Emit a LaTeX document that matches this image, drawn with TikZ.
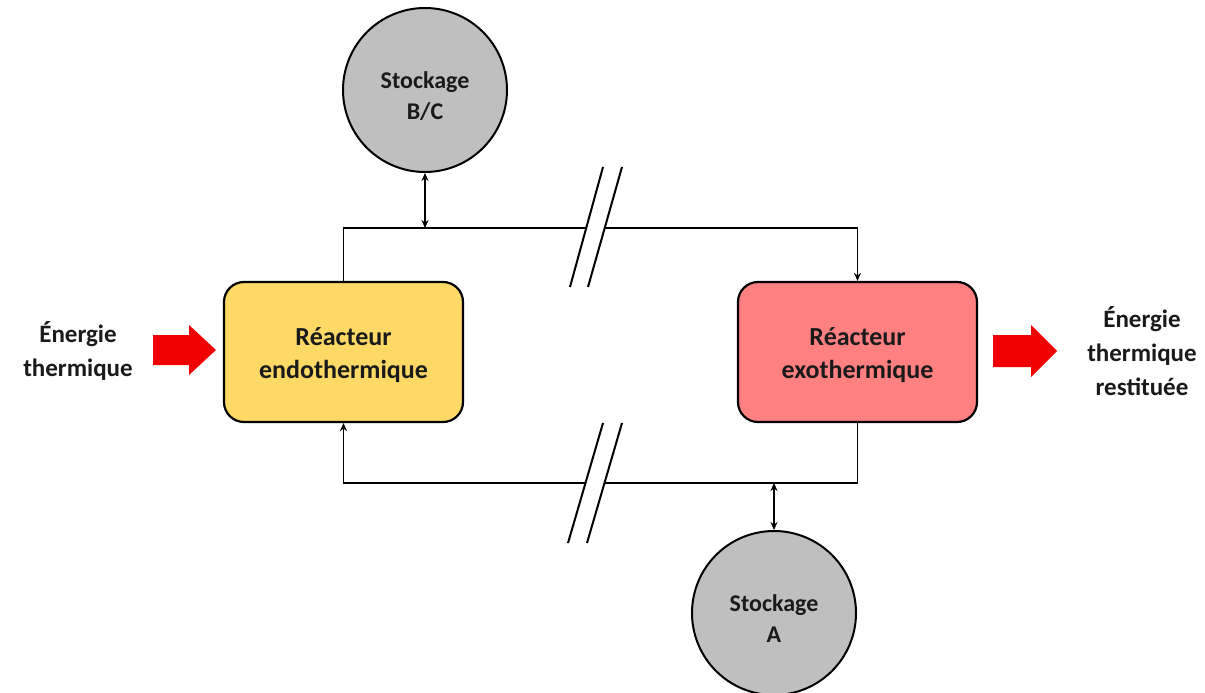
\documentclass[tikz,border=0pt]{standalone}
\usepackage{fontspec}
\setmainfont{Carlito}
\usetikzlibrary{arrows.meta}
\definecolor{txt}{HTML}{1A1A1A}
\definecolor{endofill}{HTML}{FFD966}
\definecolor{exofill}{HTML}{FF8080}
\definecolor{storegray}{HTML}{BFBFBF}
\definecolor{heatred}{HTML}{F00000}
\begin{document}
\begin{tikzpicture}[x=1pt,y=-1pt,
  box/.style={draw=black, line width=2.2pt, rounded corners=20pt, minimum width=239pt, minimum height=140pt},
  boxtext/.style={align=center, font=\fontsize{26}{33}\selectfont\bfseries, text=txt, yshift=-3pt},
  store/.style={circle, draw=black, line width=2pt, fill=storegray, minimum size=164pt, inner sep=0pt},
  storetext/.style={align=center, font=\fontsize{24}{31}\selectfont\bfseries, text=txt, yshift=-6pt},
  lbl/.style={align=center, font=\fontsize{25}{34}\selectfont\bfseries, text=txt},
  flow/.style={line width=1.4pt, draw=black},
  brk/.style={line width=2pt, draw=black},
  tipend/.style={-{Stealth[length=8pt,width=7pt]}},
  dbl/.style={{Stealth[length=8pt,width=7pt]}-{Stealth[length=8pt,width=7pt]}},
  heat/.style={fill=heatred}
]
\useasboundingbox (0,0) rectangle (1205,693);

% nodes
\node[box, fill=endofill, label={[boxtext]center:Réacteur\\endothermique}] (endo) at (343.5,352) {};
\node[box, fill=exofill, label={[boxtext]center:Réacteur\\exothermique}] (exo) at (857.5,352) {};
\node[store, label={[storetext]center:Stockage\\B/C}] (bc) at (425,90) {};
\node[store, label={[storetext]center:Stockage\\A}] (a) at (774,613) {};
\node[lbl] (lin) at (78,351) {Énergie\\thermique};
\node[lbl] (lout) at (1142,351) {Énergie\\thermique\\restituée};

% coordinates
\coordinate (tl) at (343.5,228);
\coordinate (tr) at (857.5,228);
\coordinate (tb1) at (586,228);
\coordinate (tb2) at (605,228);
\coordinate (bl) at (343.5,483);
\coordinate (br) at (857.5,483);
\coordinate (bb1) at (586,483);
\coordinate (bb2) at (605,483);

% top circuit
\draw[flow] (endo.north) -- (tl) -- (tb1);
\draw[flow,tipend] (tb2) -- (tr) -- (exo.north);
\draw[flow,dbl] (bc.south) -- (bc.south |- tl);

% bottom circuit
\draw[flow] (exo.south) -- (br) -- (bb2);
\draw[flow,tipend] (bb1) -- (bl) -- (endo.south);
\draw[flow,dbl] (a.north |- br) -- (a.north);

% break marks
\draw[brk] (603,167) -- (570,287);
\draw[brk] (622,167) -- (588,287);
\draw[brk] (603,423) -- (568,543);
\draw[brk] (622,423) -- (587,543);

% heat arrows
\fill[heat] (153,335) -- (189,335) -- (189,325) -- (216,350) -- (189,375) -- (189,365) -- (153,365) -- cycle;
\fill[heat] (993,335) -- (1031,335) -- (1031,325) -- (1057,351) -- (1031,377) -- (1031,367) -- (993,367) -- cycle;
\end{tikzpicture}
\end{document}
